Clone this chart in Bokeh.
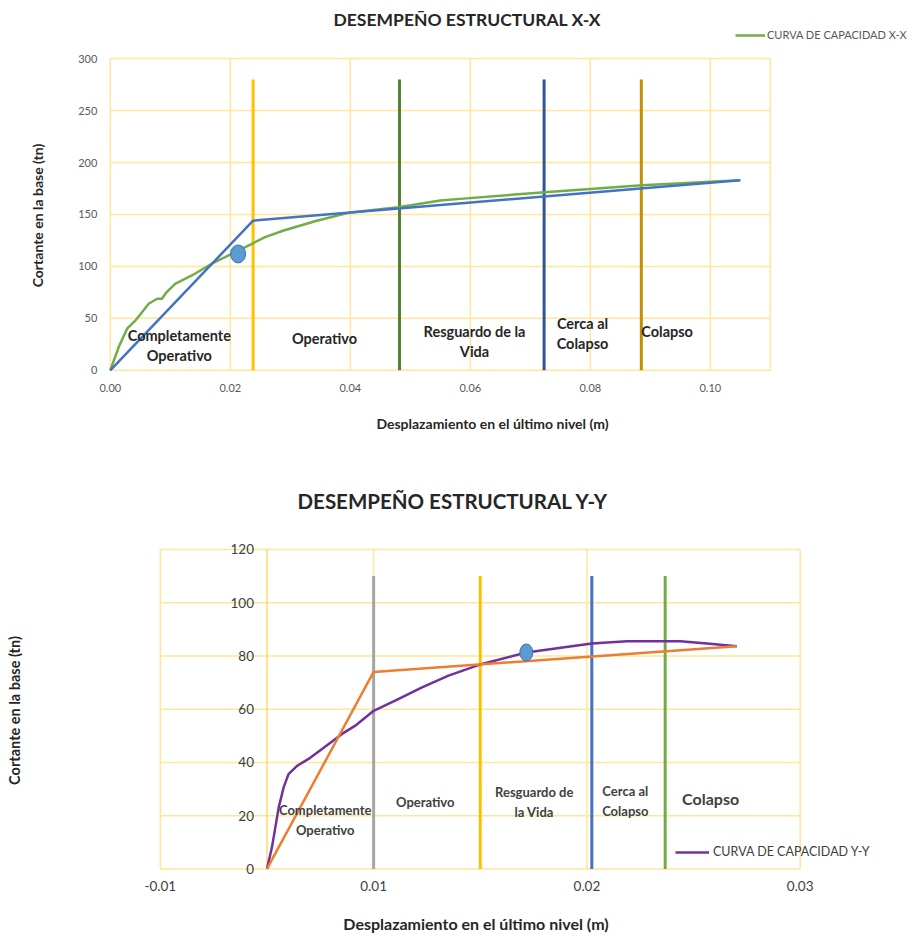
from bokeh.plotting import figure
from bokeh.models import (Range1d, FixedTicker, Legend, LegendItem, Title, ColumnDataSource)
from bokeh.embed import file_html
from bokeh.resources import INLINE
from bokeh.core.properties import value

FONT = "Lato"
GRID = "#FFE699"

# ---------------- Data: X-X ----------------
x_ticks_xx = [0.0, 0.02, 0.04, 0.06, 0.08, 0.10]
x_area_xx = (0.0, 0.11)          # plot-area limits (x)
y_ticks_xx = [0, 50, 100, 150, 200, 250, 300]
curve_xx_d = [0.0, 0.0014, 0.0028, 0.0042, 0.0064, 0.0078, 0.0086, 0.0094, 0.0108, 0.0136,
              0.0169, 0.0203, 0.0236, 0.0258, 0.0289, 0.0344, 0.040, 0.048, 0.055, 0.0583,
              0.0724, 0.0886, 0.105]
curve_xx_v = [0, 22.4, 40.1, 48, 64.1, 68.9, 68.9, 75.3, 83.3, 91.3,
              102.6, 112.2, 121.8, 128.2, 134.6, 144, 152, 157, 163.5, 165,
              171.4, 178, 183]
bilin_xx_d = [0.0, 0.0238, 0.105]
bilin_xx_v = [0, 144, 183]
limits_xx = [0.0238, 0.0482, 0.0723, 0.0885]
limit_colors_xx = ["#FFC000", "#548235", "#2F5597", "#BF9000"]
limit_top_xx = 280
point_xx = (0.0213, 112)
zone_text_xx = ["Completamente\nOperativo", "Operativo", "Resguardo de la\nVida",
                "Cerca al\nColapso", "Colapso"]
zone_x_xx = [0.0115, 0.0357, 0.0607, 0.0787, 0.0928]
zone_y_xx = [24, 30.8, 27.9, 35.6, 37.5]

# ---------------- Data: Y-Y ----------------
x_ticks_yy = [-0.005, 0.005, 0.015, 0.025]
x_tick_labels_yy = ["-0.01", "0.01", "0.02", "0.03"]
y_ticks_yy = [0, 20, 40, 60, 80, 100, 120]
curve_yy_d = [0.0, 0.00023, 0.00039, 0.00055, 0.00078, 0.00101, 0.00141, 0.00195, 0.00258,
              0.00352, 0.00414, 0.005, 0.00601, 0.00727, 0.00851, 0.01008, 0.01216,
              0.01523, 0.01688, 0.01867, 0.01938, 0.02063, 0.02203]
curve_yy_v = [0, 8.0, 15.5, 23.1, 30.6, 35.6, 38.7, 41.3, 45.0,
              50.7, 53.8, 59.4, 63.2, 68.2, 72.6, 77.0, 81.3,
              84.7, 85.5, 85.5, 85.5, 84.7, 83.6]
bilin_yy_d = [0.0, 0.005, 0.02203]
bilin_yy_v = [0, 74, 83.6]
limits_yy = [0.005, 0.01, 0.01523, 0.01867]
limit_colors_yy = ["#A5A5A5", "#FFC000", "#4472C4", "#70AD47"]
limit_top_yy = 110
point_yy = (0.01216, 81.3)
zone_text_yy = ["Completamente\nOperativo", "Operativo", "Resguardo de\nla Vida",
                "Cerca al\nColapso"]
zone_x_yy = [0.00273, 0.00742, 0.01253, 0.0168]
zone_y_yy = [18.4, 25.3, 25.2, 25.6]
collapse_text_yy = ["Colapso"]
collapse_x_yy = [0.0208]
collapse_y_yy = [26.3]


def title_axis(ax, text, size, standoff):
    """Axis that only carries the axis title (tick labels are drawn at the data origin)."""
    ax.ticker = FixedTicker(ticks=[])
    ax.axis_line_color = None
    ax.major_tick_line_color = None
    ax.minor_tick_line_color = None
    ax.major_tick_out = 0
    ax.minor_tick_out = 0
    ax.major_label_standoff = 0
    ax.axis_label = text
    ax.axis_label_standoff = standoff
    ax.axis_label_text_font = FONT
    ax.axis_label_text_font_style = "bold"
    ax.axis_label_text_font_size = size
    ax.axis_label_text_color = "#262626"


def draw_grid(p, xs, ys, xlim, ylim):
    p.segment(x0=xs, y0=[ylim[0]] * len(xs), x1=xs, y1=[ylim[1]] * len(xs),
              line_color=GRID, line_width=1.5)
    p.segment(x0=[xlim[0]] * len(ys), y0=ys, x1=[xlim[1]] * len(ys), y1=ys,
              line_color=GRID, line_width=1.5)


# ================= Figure 1 =================
p1 = figure(width=914, height=446, output_backend="svg", toolbar_location=None,
            x_range=Range1d(-0.0063, 0.1337), y_range=Range1d(-30, 328), title=None,
            min_border_left=72, min_border_right=2, min_border_top=29, min_border_bottom=45)
p1.outline_line_color = None
p1.xgrid.visible = False
p1.ygrid.visible = False
title_axis(p1.xaxis[0], "Desplazamiento en el último nivel (m)", "14px", 13)
title_axis(p1.yaxis[0], "Cortante en la base (tn)", "14px", 27)

draw_grid(p1, x_ticks_xx + [x_area_xx[1]], y_ticks_xx, x_area_xx,
          (y_ticks_xx[0], y_ticks_xx[-1]))

# tick labels at the axes through the origin
p1.text(x=[x_area_xx[0]] * len(y_ticks_xx), y=y_ticks_xx, text=[str(v) for v in y_ticks_xx],
        x_offset=-13, text_align="right", text_baseline="middle",
        text_font=value(FONT), text_font_size="11px", text_color="#595959")
p1.text(x=x_ticks_xx, y=[y_ticks_xx[0]] * len(x_ticks_xx),
        text=[f"{v:.2f}" for v in x_ticks_xx], y_offset=18, text_align="center",
        text_baseline="middle", text_font=value(FONT), text_font_size="11px",
        text_color="#595959")

for xv, col in zip(limits_xx, limit_colors_xx):
    p1.line([xv, xv], [0, limit_top_xx], line_color=col, line_width=3)

curve1 = p1.line(curve_xx_d, curve_xx_v, line_color="#70AD47", line_width=2.5)
p1.line(bilin_xx_d, bilin_xx_v, line_color="#4472C4", line_width=2.5)
p1.ellipse(x=[point_xx[0]], y=[point_xx[1]], width=15, height=18,
           width_units="screen", height_units="screen",
           fill_color="#5B9BD5", line_color="#41719C", line_width=1)

src1 = ColumnDataSource(dict(x=zone_x_xx, y=zone_y_xx, t=zone_text_xx))
p1.text(x="x", y="y", text="t", source=src1, text_font=value(FONT), text_font_style="bold",
        text_font_size="14.5px", text_align="center", text_baseline="middle",
        text_color="#262626", text_line_height=1.2)

leg1 = Legend(items=[LegendItem(label="CURVA DE CAPACIDAD X-X", renderers=[curve1])],
              location=(663, 360), border_line_color=None, background_fill_alpha=0,
              padding=0, margin=0, glyph_width=30, glyph_height=10, label_height=10,
              label_standoff=2, label_text_font=FONT, label_text_font_size="11px",
              label_text_color="#595959")
p1.add_layout(leg1)
p1.add_layout(Title(text="DESEMPEÑO ESTRUCTURAL X-X", align="left", offset=261, standoff=0,
                    text_font=FONT, text_font_style="bold", text_font_size="17.5px",
                    text_color="#262626"), "above")

# ================= Figure 2 =================
p2 = figure(width=914, height=490, output_backend="svg", toolbar_location=None,
            x_range=Range1d(-0.0094, 0.029), y_range=Range1d(-10, 129), title=None,
            min_border_left=66, min_border_right=29, min_border_top=79, min_border_bottom=41)
p2.outline_line_color = None
p2.xgrid.visible = False
p2.ygrid.visible = False
title_axis(p2.xaxis[0], "Desplazamiento en el último nivel (m)", "16px", 18)
title_axis(p2.yaxis[0], "Cortante en la base (tn)", "14.5px", 44)

draw_grid(p2, x_ticks_yy, y_ticks_yy, (x_ticks_yy[0], x_ticks_yy[-1]),
          (y_ticks_yy[0], y_ticks_yy[-1]))
# vertical axis line through x = 0
p2.segment(x0=[0], y0=[y_ticks_yy[0]], x1=[0], y1=[y_ticks_yy[-1]],
           line_color="#FFD966", line_width=1.5)

p2.text(x=[0] * len(y_ticks_yy), y=y_ticks_yy, text=[str(v) for v in y_ticks_yy],
        x_offset=-13, text_align="right", text_baseline="middle",
        text_font=value(FONT), text_font_size="13.5px", text_color="#404040")
p2.text(x=x_ticks_yy, y=[y_ticks_yy[0]] * len(x_ticks_yy), text=x_tick_labels_yy,
        y_offset=17, text_align="center", text_baseline="middle",
        text_font=value(FONT), text_font_size="13.5px", text_color="#404040")

for xv, col in zip(limits_yy, limit_colors_yy):
    p2.line([xv, xv], [0, limit_top_yy], line_color=col, line_width=3)

curve2 = p2.line(curve_yy_d, curve_yy_v, line_color="#7030A0", line_width=2.5)
p2.line(bilin_yy_d, bilin_yy_v, line_color="#ED7D31", line_width=2.5)
p2.ellipse(x=[point_yy[0]], y=[point_yy[1]], width=13, height=17,
           width_units="screen", height_units="screen",
           fill_color="#5B9BD5", line_color="#41719C", line_width=1)

src2 = ColumnDataSource(dict(x=zone_x_yy, y=zone_y_yy, t=zone_text_yy))
p2.text(x="x", y="y", text="t", source=src2, text_font=value(FONT), text_font_style="bold",
        text_font_size="13px", text_align="center", text_baseline="middle",
        text_color="#404040", text_line_height=1.25)
src3 = ColumnDataSource(dict(x=collapse_x_yy, y=collapse_y_yy, t=collapse_text_yy))
p2.text(x="x", y="y", text="t", source=src3, text_font=value(FONT), text_font_style="bold",
        text_font_size="16px", text_align="center", text_baseline="middle",
        text_color="#404040")

p2.add_layout(Title(text="DESEMPEÑO ESTRUCTURAL Y-Y", align="left", offset=231, standoff=26,
                    text_font=FONT, text_font_style="bold", text_font_size="20.5px",
                    text_color="#262626"), "above")
leg2 = Legend(items=[LegendItem(label="CURVA DE CAPACIDAD Y-Y", renderers=[curve2])],
              location=(609, 36), border_line_color=None, background_fill_alpha=0,
              padding=0, margin=0, glyph_width=34, glyph_height=10, label_height=10,
              label_standoff=4, label_text_font=FONT, label_text_font_size="12.5px",
              label_text_color="#404040")
p2.add_layout(leg2)

open("out.html", "w").write(file_html([p1, p2], INLINE))
